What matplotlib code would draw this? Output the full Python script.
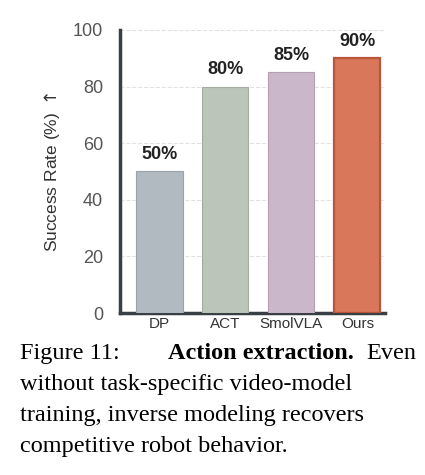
import matplotlib
matplotlib.use("Agg")
import matplotlib.pyplot as plt

plt.rcParams["font.family"] = ["Liberation Sans", "DejaVu Sans"]

methods = ["DP", "ACT", "SmolVLA", "Ours"]
values = [50, 80, 85, 90]
colors = ["#b1bac1", "#bcc5b9", "#cab7ca", "#d9775a"]
edges = ["#9aa3aa", "#a5ada2", "#b3a0b3", "#b8553a"]
yticks = [0, 20, 40, 60, 80, 100]

fig = plt.figure(figsize=(4.25, 4.75), dpi=100)
ax = fig.add_axes([0.282, 0.341, 0.624, 0.596])
x = range(len(methods))
ax.bar(x, values, width=0.7, color=colors, edgecolor=edges, linewidth=[0.8, 0.8, 0.8, 1.6], zorder=3)
for xi, v in zip(x, values):
    ax.text(xi, v + 3, f"{v}%", ha="center", va="bottom", fontsize=13, fontweight="bold", color="#222222")
ax.set_xlim(-0.6, 3.42)
ax.set_ylim(0, 100)
ax.set_yticks(yticks)
ax.set_xticks(list(x))
ax.set_xticklabels(methods, fontsize=11, color="#333333")
ax.tick_params(axis="y", labelsize=13, colors="#555555", length=0, pad=12)
ax.tick_params(axis="x", length=0, pad=3)
ax.grid(axis="y", linestyle="--", color="#e2e2e2", linewidth=0.8, zorder=0)
for s in ["top", "right"]:
    ax.spines[s].set_visible(False)
for s in ["left", "bottom"]:
    ax.spines[s].set_linewidth(2.5)
    ax.spines[s].set_color("#3a3f44")
ax.set_ylabel("Success Rate (%) $\\uparrow$", fontsize=12.5, color="#333333", labelpad=8)

serif = ["Liberation Serif", "DejaVu Serif"]
fs = 17.5
lines_y = [0.255, 0.19, 0.125, 0.06]
fig.text(0.048, lines_y[0], "Figure 11:", fontsize=fs, family=serif, va="center")
fig.text(0.395, lines_y[0], "Action extraction.", fontsize=fs, family=serif, fontweight="bold", va="center")
fig.text(0.862, lines_y[0], "Even", fontsize=fs, family=serif, va="center")
fig.text(0.048, lines_y[1], "without task-specific video-model", fontsize=fs, family=serif, va="center")
fig.text(0.048, lines_y[2], "training, inverse modeling recovers", fontsize=fs, family=serif, va="center")
fig.text(0.048, lines_y[3], "competitive robot behavior.", fontsize=fs, family=serif, va="center")
fig.savefig("out.png", dpi=100)
